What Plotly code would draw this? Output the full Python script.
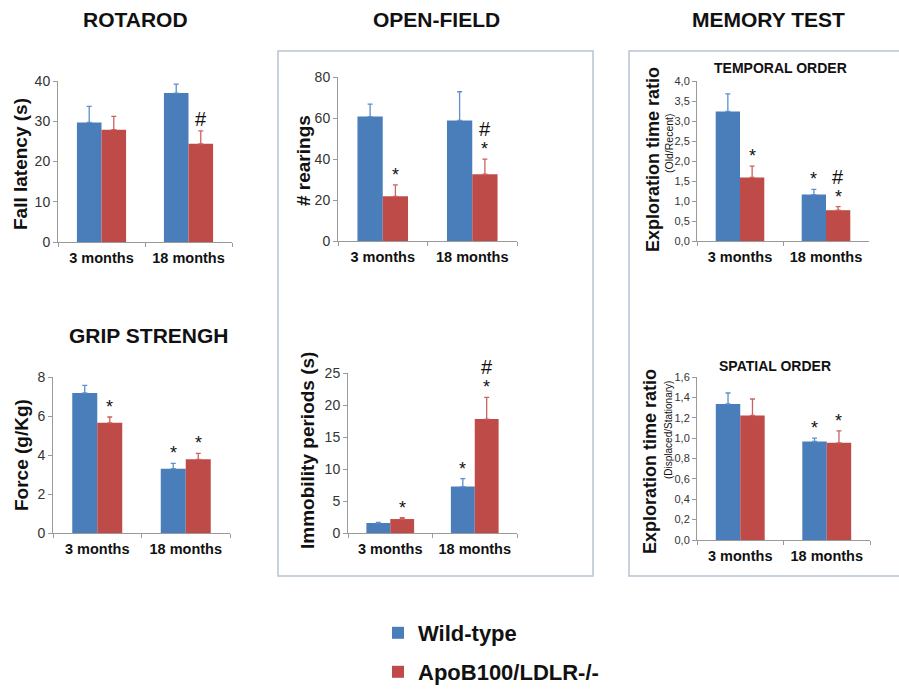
import plotly.graph_objects as go

W, H = 899, 689

# ---------------- data ----------------
categories = ["3 months", "18 months"]
tick_labels = ["<b>3 months</b>", "<b>18 months</b>"]
series_names = ["Wild-type", "ApoB100/LDLR-/-"]

rotarod_wt = [29.7, 37.0]
rotarod_wt_err = [4.0, 2.2]
rotarod_ko = [27.9, 24.4]
rotarod_ko_err = [3.3, 3.2]
rotarod_sig_wt = ["", ""]
rotarod_sig_ko = ["", "#"]

rearing_wt = [60.7, 58.8]
rearing_wt_err = [6.1, 14.0]
rearing_ko = [21.8, 32.6]
rearing_ko_err = [5.6, 7.3]
rearing_sig_wt = ["", ""]
rearing_sig_ko = ["*", "*#"]

temporal_wt = [3.24, 1.16]
temporal_wt_err = [0.44, 0.13]
temporal_ko = [1.59, 0.77]
temporal_ko_err = [0.28, 0.09]
temporal_sig_wt = ["", "*"]
temporal_sig_ko = ["*", "*#"]

grip_wt = [7.18, 3.30]
grip_wt_err = [0.39, 0.27]
grip_ko = [5.65, 3.78]
grip_ko_err = [0.30, 0.30]
grip_sig_wt = ["", "*"]
grip_sig_ko = ["*", "*"]

immob_wt = [1.56, 7.25]
immob_wt_err = [0.08, 1.25]
immob_ko = [2.18, 17.8]
immob_ko_err = [0.2, 3.4]
immob_sig_wt = ["", "*"]
immob_sig_ko = ["*", "*#"]

spatial_wt = [1.335, 0.967]
spatial_wt_err = [0.108, 0.033]
spatial_ko = [1.222, 0.954]
spatial_ko_err = [0.162, 0.118]
spatial_sig_wt = ["", "*"]
spatial_sig_ko = ["", "*"]

# ---------------- style ----------------
FONT = "Liberation Sans, Arial, sans-serif"
BLUE = "#4a7ebb"
RED = "#be4b48"
BLUE_ERR = "#5d8fcc"
RED_ERR = "#cc625f"
AXIS = "#9a9a9a"
BARGAP = 0.435

panels = [
    dict(n=1, wt=rotarod_wt, wte=rotarod_wt_err, ko=rotarod_ko, koe=rotarod_ko_err,
         swt=rotarod_sig_wt, sko=rotarod_sig_ko, ymax=40, dtick=10, fmt="d", tfs=14,
         xpx=(58, 232), ypx=(81, 242)),
    dict(n=2, wt=rearing_wt, wte=rearing_wt_err, ko=rearing_ko, koe=rearing_ko_err,
         swt=rearing_sig_wt, sko=rearing_sig_ko, ymax=80, dtick=20, fmt="d", tfs=14,
         xpx=(338, 517), ypx=(77, 241)),
    dict(n=3, wt=temporal_wt, wte=temporal_wt_err, ko=temporal_ko, koe=temporal_ko_err,
         swt=temporal_sig_wt, sko=temporal_sig_ko, ymax=4, dtick=0.5, fmt=".1f", tfs=11,
         xpx=(697, 869), ypx=(81, 241)),
    dict(n=4, wt=grip_wt, wte=grip_wt_err, ko=grip_ko, koe=grip_ko_err,
         swt=grip_sig_wt, sko=grip_sig_ko, ymax=8, dtick=2, fmt="d", tfs=14,
         xpx=(53, 230), ypx=(377, 533)),
    dict(n=5, wt=immob_wt, wte=immob_wt_err, ko=immob_ko, koe=immob_ko_err,
         swt=immob_sig_wt, sko=immob_sig_ko, ymax=25, dtick=5, fmt="d", tfs=14,
         xpx=(348, 517), ypx=(373, 533)),
    dict(n=6, wt=spatial_wt, wte=spatial_wt_err, ko=spatial_ko, koe=spatial_ko_err,
         swt=spatial_sig_wt, sko=spatial_sig_ko, ymax=1.6, dtick=0.2, fmt=".1f", tfs=11,
         xpx=(697, 870), ypx=(377, 540)),
]

fig = go.Figure()
annotations = []
layout_axes = {}

for p in panels:
    n = p["n"]
    xa = "x" if n == 1 else f"x{n}"
    ya = "y" if n == 1 else f"y{n}"
    for k, (vals, errs, col, ecol, name) in enumerate([
        (p["wt"], p["wte"], BLUE, BLUE_ERR, series_names[0]),
        (p["ko"], p["koe"], RED, RED_ERR, series_names[1]),
    ]):
        fig.add_trace(go.Bar(
            x=categories, y=vals, xaxis=xa, yaxis=ya,
            name=f"<b>{name}</b>", marker=dict(color=col, line=dict(width=0)),
            error_y=dict(type="data", symmetric=False, array=errs,
                         arrayminus=[0] * len(errs), color=ecol, thickness=1.3, width=2.5),
            showlegend=(n == 1), legend="legend" if k == 0 else "legend2",
            offsetgroup=str(k),
        ))
    # significance marks
    off = (1 - BARGAP) / 4
    for k, (vals, errs, sigs) in enumerate([(p["wt"], p["wte"], p["swt"]), (p["ko"], p["koe"], p["sko"])]):
        for i, s in enumerate(sigs):
            base = vals[i] + errs[i]
            shift = -2
            for ch in s:
                annotations.append(dict(
                    x=i + (off if k == 1 else -off), y=base, xref=xa, yref=ya,
                    text=ch, showarrow=False, yanchor="bottom", xanchor="center",
                    yshift=shift if ch == "*" else shift + 1,
                    font=dict(family=FONT, size=18 if ch == "*" else 20, color="#111"),
                ))
                shift += 18
    xkey = "xaxis" if n == 1 else f"xaxis{n}"
    ykey = "yaxis" if n == 1 else f"yaxis{n}"
    layout_axes[xkey] = dict(
        domain=[p["xpx"][0] / W, p["xpx"][1] / W], anchor=ya, type="category",
        categoryorder="array", categoryarray=categories,
        tickvals=categories, ticktext=tick_labels,
        showline=True, linecolor=AXIS, linewidth=1, ticks="outside", tickson="boundaries",
        ticklen=4, tickcolor=AXIS, showgrid=False, zeroline=False,
        tickfont=dict(family=FONT, size=14.5, color="#111"), ticklabelstandoff=3,
        fixedrange=True,
    )
    layout_axes[ykey] = dict(
        domain=[1 - p["ypx"][1] / H, 1 - p["ypx"][0] / H], anchor=xa,
        range=[0, p["ymax"]], dtick=p["dtick"], tick0=0, tickformat=p["fmt"],
        showline=True, linecolor=AXIS, linewidth=1, ticks="outside", ticklen=4,
        tickcolor=AXIS, showgrid=False, zeroline=False,
        tickfont=dict(family=FONT, size=p["tfs"], color="#333"), fixedrange=True,
    )


def paper_text(text, xpx, ypx, size, bold=True, angle=0, color="#111"):
    annotations.append(dict(
        text=f"<b>{text}</b>" if bold else text, x=xpx / W, y=1 - ypx / H,
        xref="paper", yref="paper", showarrow=False, xanchor="center", yanchor="middle",
        textangle=angle, font=dict(family=FONT, size=size, color=color),
    ))


# panel headers
paper_text("ROTAROD", 135, 20, 21)
paper_text("OPEN-FIELD", 436, 20, 21)
paper_text("MEMORY TEST", 768, 20, 21)
paper_text("GRIP STRENGH", 148, 335, 21)
paper_text("TEMPORAL ORDER", 780, 68, 14)
paper_text("SPATIAL ORDER", 775, 366, 14)

# y titles
paper_text("Fall latency (s)", 20, 164, 19, angle=-90)
paper_text("Force (g/Kg)", 21, 455, 19, angle=-90)
paper_text("# rearings", 303, 161, 19, angle=-90)
paper_text("Immobility periods (s)", 307, 451, 19, angle=-90)
paper_text("Exploration time ratio", 653, 160, 18, angle=-90)
paper_text("(Old/Recent)", 669, 143, 10.5, bold=False, angle=-90)
paper_text("Exploration time ratio", 650, 462, 18, angle=-90)
paper_text("(Displaced/Stationary)", 668, 430, 10, bold=False, angle=-90)

shapes = [
    dict(type="rect", xref="paper", yref="paper", x0=278 / W, x1=593 / W,
         y0=1 - 576 / H, y1=1 - 51 / H, line=dict(color="#b7c3d4", width=1.5)),
    dict(type="rect", xref="paper", yref="paper", x0=629 / W, x1=1.02,
         y0=1 - 576 / H, y1=1 - 51 / H, line=dict(color="#b7c3d4", width=1.5)),
]

legend_common = dict(xanchor="left", yanchor="middle", bgcolor="rgba(0,0,0,0)",
                     font=dict(family=FONT, size=22, color="#111"), itemclick=False,
                     itemdoubleclick=False)

fig.update_layout(
    width=W, height=H, autosize=False,
    margin=dict(l=0, r=0, t=0, b=0, pad=0, autoexpand=False),
    paper_bgcolor="white", plot_bgcolor="white",
    barmode="group", bargap=BARGAP, bargroupgap=0,
    separators=", ",
    annotations=annotations, shapes=shapes,
    legend=dict(x=378 / W, y=1 - 633 / H, **legend_common),
    legend2=dict(x=378 / W, y=1 - 672 / H, **legend_common),
    **layout_axes,
)

fig.write_html(
    "out.html",
    config={"displayModeBar": False, "staticPlot": True},
    post_script="document.body.style.margin='0';document.body.style.overflow='hidden';",
)
